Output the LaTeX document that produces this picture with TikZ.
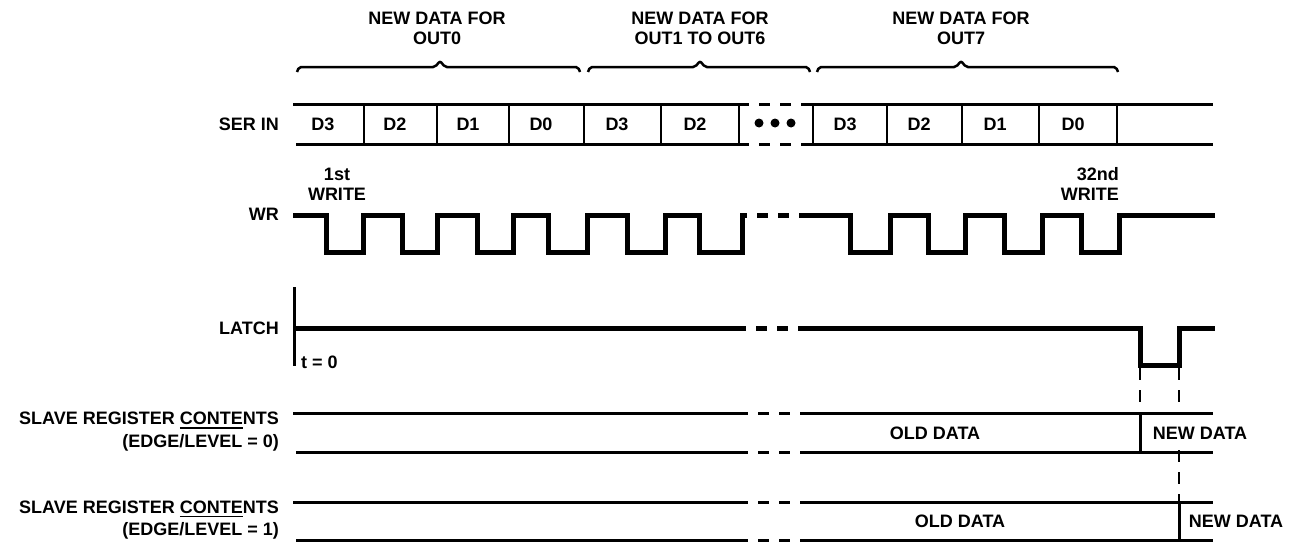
\documentclass[tikz,border=0pt]{standalone}
\usepackage{fontspec}
\setmainfont{Liberation Sans}
\newcommand{\ulpart}[1]{\sbox0{#1}\rlap{\rule[-4pt]{\wd0}{1.6pt}}\usebox0}

\begin{document}
\begin{tikzpicture}[x=1pt, y=-1pt,
    lbl/.style={font=\bfseries\fontsize{18}{20}\selectfont, inner sep=0pt},
    bus/.style={line width=3pt},
    wave/.style={line width=5pt},
    tick/.style={line width=2pt},
    gap/.style={dash pattern=on 11pt off 10pt, dash phase=11pt},
    guide/.style={line width=2pt, dash pattern=on 12pt off 10pt}]
  \useasboundingbox (0,0) rectangle (1298,544);

  % group headings and braces
  \node[lbl, align=center] (hd0) at (437,28) {NEW DATA FOR\\OUT0};
  \node[lbl, align=center] (hd1) at (700,28) {NEW DATA FOR\\OUT1 TO OUT6};
  \node[lbl, align=center] (hd7) at (961,28) {NEW DATA FOR\\OUT7};
  \foreach \a/\m/\b in {297/440/580, 588/700/810, 817/961/1118}
    \draw[line width=2.5pt, rounded corners=2pt]
      (\a,72) -- (\a+2,67) -- (\m-5,67) -- (\m,61) -- (\m+5,67) -- (\b-2,67) -- (\b,72);

  % SER IN
  \node[lbl, anchor=east] (serin) at (279,124) {SER IN};
  \foreach \y/\x in {104/293, 144/296} {
    \draw[bus] (\x,\y) -- (749,\y);
    \draw[bus, gap] (749,\y) -- (803,\y);
    \draw[bus] (803,\y) -- (1213,\y);
  }
  \foreach \x in {364,437,509,584,661,739,813,887,962,1039,1117}
    \draw[tick] (\x,104) -- (\x,144);
  \foreach \x/\t [count=\i] in {323/D3, 395/D2, 468/D1, 541/D0, 617/D3, 695/D2,
                                845/D3, 919/D2, 995/D1, 1073/D0}
    \node[lbl] (d\i) at (\x,124) {\t};
  \foreach \x in {759,775,791}
    \fill (\x,123) circle[radius=4.5pt];

  % WR
  \node[lbl, anchor=east] (wr) at (279,214) {WR};
  \node[lbl, align=center] (wfirst) at (337,184) {1st\\WRITE};
  \node[lbl, align=right, anchor=east] (wlast) at (1119,184) {32nd\\WRITE};
  \draw[wave] (293,215)
    \foreach \f/\r in {326/363, 402/437, 477/513, 548/587, 627/665, 699/742}
      { -- (\f,215) -- (\f,252) -- (\r,252) -- (\r,215) } -- (747,215);
  \draw[wave, gap] (747,215) -- (805,215);
  \draw[wave] (805,215)
    \foreach \f/\r in {850/890, 928/965, 1004/1042, 1081/1119}
      { -- (\f,215) -- (\f,252) -- (\r,252) -- (\r,215) } -- (1215,215);

  % LATCH
  \node[lbl, anchor=east] (latch) at (279,328) {LATCH};
  \node[lbl, anchor=west] (tzero) at (301,362) {t = 0};
  \draw[bus] (294,287) -- (294,366);
  \draw[wave] (294,328) -- (746,328);
  \draw[wave, gap] (746,328) -- (808,328);
  \draw[wave] (808,328) -| (1140,365) -| (1179,328) -- (1215,328);
  \draw[guide] (1140,368) -- (1140,413);
  \draw[guide] (1179,368) -- (1179,413);
  \draw[guide] (1179,450) -- (1179,502);

  % slave registers
  \foreach \t/\b in {413/452, 502/540} {
    \foreach \y/\x in {\t/293, \b/296} {
      \draw[bus] (\x,\y) -- (748,\y);
      \draw[bus, gap] (748,\y) -- (806,\y);
      \draw[bus] (806,\y) -- (1213,\y);
    }
  }
  \draw[bus] (1140,413) -- (1140,452);
  \draw[bus] (1179,502) -- (1179,540);
  \node[lbl, align=right, anchor=east, font=\bfseries\fontsize{18}{23}\selectfont]
    (sreg0) at (279,432) {SLAVE REGISTER \ulpart{CONTE}NTS\\(EDGE/LEVEL = 0)};
  \node[lbl, align=right, anchor=east, font=\bfseries\fontsize{18}{22}\selectfont]
    (sreg1) at (279,520) {SLAVE REGISTER \ulpart{CONTE}NTS\\(EDGE/LEVEL = 1)};
  \node[lbl] (old0) at (935,433) {OLD DATA};
  \node[lbl] (new0) at (1200,433) {NEW DATA};
  \node[lbl] (old1) at (960,521) {OLD DATA};
  \node[lbl] (new1) at (1236,521) {NEW DATA};
\end{tikzpicture}
\end{document}
